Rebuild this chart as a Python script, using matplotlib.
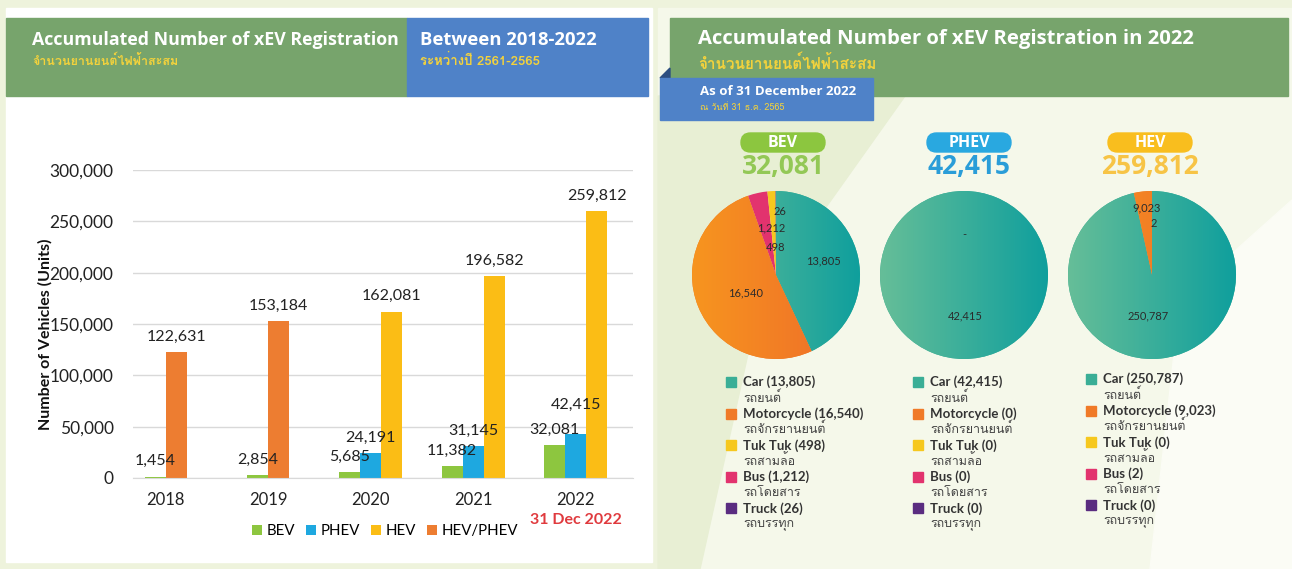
"""
xEV registration infographic: bar chart 2018-2022 and 2022 pies by vehicle type.
"""

import numpy as np
import matplotlib
matplotlib.use('Agg')
import matplotlib.pyplot as plt
from matplotlib import font_manager
from matplotlib.ft2font import FT2Font
from matplotlib.patches import Rectangle, FancyBboxPatch, Polygon
from matplotlib.colors import LinearSegmentedColormap

# ---- data ----
years = ['2018', '2019', '2020', '2021', '2022']
bev = [1454, 2854, 5685, 11382, 32081]
phev = [None, None, 24191, 31145, 42415]
hev = [None, None, 162081, 196582, 259812]
hev_phev = [122631, 153184, None, None, None]
y_ticks = [0, 50000, 100000, 150000, 200000, 250000, 300000]

vehicle_types = ['Car', 'Motorcycle', 'Tuk Tuk', 'Bus', 'Truck']
vehicle_types_th = ['รถยนต์', 'รถจักรยานยนต์', 'รถสามล้อ', 'รถโดยสาร', 'รถบรรทุก']
pie_names = ['BEV', 'PHEV', 'HEV']
bev_2022 = [13805, 16540, 498, 1212, 26]
phev_2022 = [42415, 0, 0, 0, 0]
hev_2022 = [250787, 9023, 0, 2, 0]

# ---- style ----
W, H = 1292, 569
BAR_COLORS = {'BEV': '#8dc63f', 'PHEV': '#1ea8e0', 'HEV': '#fbbd15', 'HEV/PHEV': '#ed7d31'}
TYPE_COLORS = ['#3aae96', '#f07a28', '#f6c81e', '#e2336e', '#5a2c80']
GRADIENTS = {0: ('#66be98', '#0f9f9d'), 1: ('#f7951f', '#ee6a2a')}
BADGE = {'BEV': ('#8cc63f', '#93c856'), 'PHEV': ('#29a8e0', '#2a9dd8'),
         'HEV': ('#f9be1e', '#f7c446')}
PIE_ORDER = [0, 1, 3, 2, 4]  # clockwise from 12 o'clock: car, moto, bus, tuk tuk, truck
LABEL_LIFT = {('PHEV', 4): 16}  # value label pushed up to clear its neighbour


def find_thai_font():
    for f in font_manager.fontManager.ttflist:
        try:
            if 0x0E01 in FT2Font(f.fname).get_charmap():
                return f.name
        except Exception:
            pass
    return 'DejaVu Sans'


THAI = find_thai_font()
TH_FAM = [THAI, 'DejaVu Sans']
EN = 'Lato'
HEAD = 'Open Sans'


def px_box(x0, y0, x1, y1):
    return [x0 / W, 1 - y1 / H, (x1 - x0) / W, (y1 - y0) / H]


fig = plt.figure(figsize=(W / 100, H / 100), dpi=100)
fig.patch.set_facecolor('#eef3dc')

# background layer in pixel coordinates (y down)
bg = fig.add_axes([0, 0, 1, 1], zorder=0)
bg.set_xlim(0, W)
bg.set_ylim(H, 0)
bg.axis('off')

bg.add_patch(Rectangle((6, 8), 646, 554, color='white'))
bg.add_patch(Rectangle((658, 8), 634, 561, color='#f5f8ea'))
bg.add_patch(Polygon([(658, 96), (905, 96), (760, 300), (700, 569), (658, 569)],
                     color='#e8efd4'))
bg.add_patch(Polygon([(1180, 300), (1292, 200), (1292, 569), (1150, 569)], color='#fbfcf5'))

# left header
bg.add_patch(Rectangle((6, 18), 401, 78, color='#77a46c'))
bg.add_patch(Rectangle((407, 18), 241, 78, color='#4f82c8'))
bg.text(32, 40, 'Accumulated Number of xEV Registration', color='white', fontsize=12.8,
        fontweight='bold', family=HEAD, va='center')
bg.text(32, 61, 'จำนวนยานยนต์ไฟฟ้าสะสม', color='#f3d23c', fontsize=9, fontweight='bold',
        family=TH_FAM, va='center')
bg.text(420, 40, 'Between 2018-2022', color='white', fontsize=13.3, fontweight='bold',
        family=HEAD, va='center')
bg.text(420, 61, 'ระหว่างปี 2561-2565', color='#f3d23c', fontsize=9.5, fontweight='bold',
        family=TH_FAM, va='center')

# right header
bg.add_patch(Rectangle((670, 18), 618, 78, color='#77a46c'))
bg.add_patch(Polygon([(660, 78), (670, 68), (670, 78)], color='#2d4f80'))
bg.add_patch(Rectangle((660, 78), 213, 42, color='#4f82c8'))
bg.text(698, 39, 'Accumulated Number of xEV Registration in 2022', color='white',
        fontsize=14.6, fontweight='bold', family=HEAD, va='center')
bg.text(698, 63, 'จำนวนยานยนต์ไฟฟ้าสะสม', color='#f3d23c', fontsize=11,
        fontweight='bold', family=TH_FAM, va='center')
bg.text(700, 91, 'As of 31 December 2022', color='white', fontsize=9.5,
        fontweight='bold', family=HEAD, va='center')
bg.text(700, 107, 'ณ วันที่ 31 ธ.ค. 2565', color='#f3d23c', fontsize=6.5,
        family=TH_FAM, va='center')

# ---- bar chart ----
ax = fig.add_axes(px_box(133, 170, 633, 478), zorder=1)
ax.set_facecolor('none')
series = [('BEV', bev), ('PHEV', phev), ('HEV', hev), ('HEV/PHEV', hev_phev)]
bar_w = 0.205

offsets = {}
for i in range(len(years)):
    present = [name for name, vals in series if vals[i] is not None]
    for j, name in enumerate(present):
        offsets[(name, i)] = (j - (len(present) - 1) / 2) * bar_w

for name, vals in series:
    idx = [i for i, v in enumerate(vals) if v is not None]
    xs = [i + offsets[(name, i)] for i in idx]
    vs = [vals[i] for i in idx]
    ax.bar(xs, vs, bar_w, color=BAR_COLORS[name], label=name, zorder=2)
    for i, xv, v in zip(idx, xs, vs):
        ax.annotate(f'{v:,}', (xv, v), xytext=(0, LABEL_LIFT.get((name, i), 6)),
                    textcoords='offset points', ha='center', va='bottom', fontsize=11.5,
                    family=EN, color='#222222', zorder=3)

ax.set_xlim(-0.32, 4.56)
ax.set_ylim(0, 300000)
ax.set_yticks(y_ticks)
ax.set_yticklabels([f'{v:,}' for v in y_ticks], family=EN, fontsize=12.5, color='#222222')
ax.set_xticks(range(len(years)))
ax.set_xticklabels(years, family=EN, fontsize=12, color='#222222')
ax.tick_params(axis='y', length=0, pad=14)
ax.tick_params(axis='x', length=0, pad=10)
ax.yaxis.grid(True, color='#d9d9d9', linewidth=1)
ax.set_axisbelow(True)
for side in ['top', 'right', 'left']:
    ax.spines[side].set_visible(False)
ax.spines['bottom'].set_color('#d9d9d9')

ax.annotate('31 Dec 2022', (4, 0), xytext=(0, -30), textcoords='offset points',
            ha='center', va='center', color='#e03a3e', fontsize=11.5, fontweight='bold',
            family=EN)
bg.text(45, 334, 'Number of Vehicles (Units)', rotation=90, ha='center', va='center',
        fontsize=11.5, fontweight='bold', family=EN, color='#111111')
ax.legend(loc='center', bbox_to_anchor=(385 / W, 1 - 531 / H), bbox_transform=fig.transFigure,
          ncol=4, frameon=False, handlelength=0.65, handleheight=0.65, handletextpad=0.3,
          columnspacing=0.75, prop={'family': EN, 'size': 10.8})

# ---- pies ----
pie_values = [bev_2022, phev_2022, hev_2022]
pie_cx = [776, 964, 1152]
badge_cx = [783, 969, 1150]
legend_x = [726, 913, 1086]
legend_y0 = [382, 382, 379]
pie_r = 84
pie_cy = 275
# label positions inside each pie (fraction of radius), keyed by vehicle type index
label_xy = [
    {0: (0.57, 0.17), 1: (-0.36, -0.21), 2: (-0.01, 0.33), 3: (-0.06, 0.56), 4: (0.05, 0.76)},
    {0: (0.02, -0.49), 1: (0.0, 0.48)},
    {0: (-0.05, -0.49), 1: (-0.07, 0.8), 3: (0.02, 0.61)},
]

for k, (name, vals) in enumerate(zip(pie_names, pie_values)):
    cx = pie_cx[k]
    pax = fig.add_axes(px_box(cx - pie_r, pie_cy - pie_r, cx + pie_r, pie_cy + pie_r), zorder=1)
    pax.set_facecolor('none')
    order = [i for i in PIE_ORDER if vals[i] > 0]
    wedges, _ = pax.pie([vals[i] for i in order], colors=[TYPE_COLORS[i] for i in order],
                        startangle=90, counterclock=False, radius=1,
                        wedgeprops={'linewidth': 0})
    grad = np.linspace(0, 1, 256).reshape(1, -1)
    for wdg, i in zip(wedges, order):
        if i in GRADIENTS:
            cmap = LinearSegmentedColormap.from_list(f'g{i}', GRADIENTS[i])
            im = pax.imshow(grad, cmap=cmap, extent=(-1, 1, -1, 1), aspect='auto',
                            zorder=wdg.get_zorder() + 0.1)
            im.set_clip_path(wdg)
    for i, (lx, ly) in label_xy[k].items():
        txt = f'{vals[i]:,}' if vals[i] > 0 else '-'
        pax.text(lx, ly, txt, ha='center', va='center', fontsize=8, family=EN,
                 color='#2b2b2b', zorder=5)
    pax.set_xlim(-1, 1)
    pax.set_ylim(-1, 1)
    pax.set_aspect('equal')
    pax.axis('off')

    # badge and total
    face, num_col = BADGE[name]
    bx = badge_cx[k]
    bg.add_patch(FancyBboxPatch((bx - 42, 133), 84, 19, boxstyle='round,pad=0,rounding_size=9.5',
                                color=face, zorder=2))
    bg.text(bx, 143, name, ha='center', va='center', color='white', fontsize=11.5,
            fontweight='bold', family=HEAD, zorder=3)
    bg.text(bx, 166, f'{sum(vals):,}', ha='center', va='center', color=num_col,
            fontsize=19, fontweight='bold', family=HEAD, zorder=3)

    # legend with English and Thai lines
    for j, (en, th) in enumerate(zip(vehicle_types, vehicle_types_th)):
        y = legend_y0[k] + j * 31.6
        bg.add_patch(Rectangle((legend_x[k], y - 5), 10, 10, color=TYPE_COLORS[j], zorder=2))
        bg.text(legend_x[k] + 17, y, f'{en} ({vals[j]:,})', va='center', fontsize=9.5,
                fontweight='bold', family=EN, color='#333333', zorder=3)
        bg.text(legend_x[k] + 17, y + 15.8, th, va='center', fontsize=9,
                family=TH_FAM, color='#444444', zorder=3)

fig.savefig('out.png', dpi=100, facecolor=fig.get_facecolor())
plt.close(fig)
